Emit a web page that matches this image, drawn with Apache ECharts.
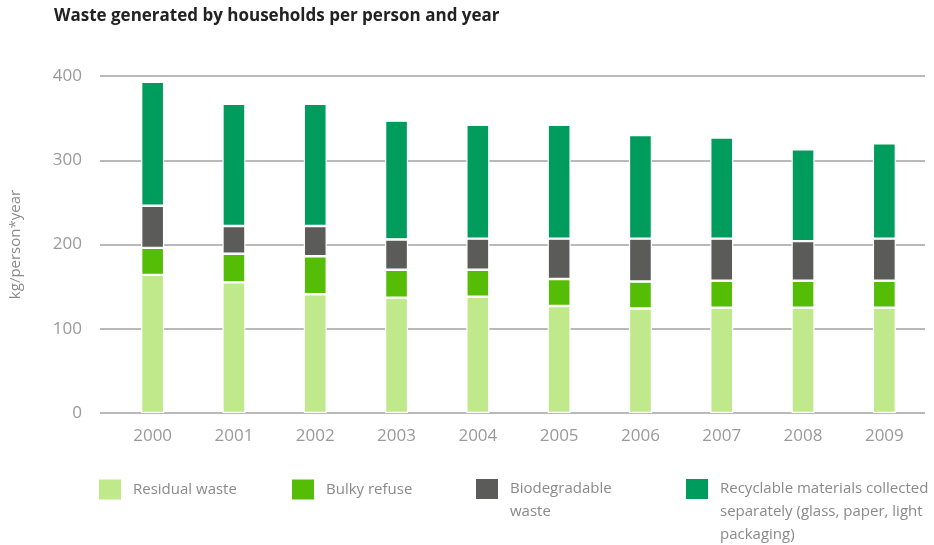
<!DOCTYPE html>
<html>
<head>
<meta charset="utf-8">
<script src="https://cdn.jsdelivr.net/npm/echarts@6/dist/echarts.min.js"></script>
<style>
  html, body { margin: 0; padding: 0; background: #fff; }
  #chart { width: 934px; height: 545px; }
</style>
</head>
<body>
<div id="chart"></div>
<script>
// values, kg per person and year
const years = ["2000", "2001", "2002", "2003", "2004", "2005", "2006", "2007", "2008", "2009"];
const residual = [164, 155, 141, 137, 138, 127, 124, 125, 125, 125];
const bulky = [32, 34, 45, 33, 32, 32, 32, 32, 32, 32];
const biodegradable = [50, 33, 36, 36, 37, 48, 51, 50, 47, 50];
const recyclable = [147, 145, 145, 141, 135, 135, 123, 120, 109, 113];

const seriesNames = [
  "Residual waste",
  "Bulky refuse",
  "Biodegradable\nwaste",
  "Recyclable materials collected\nseparately (glass, paper, light\npackaging)"
];
const colors = ["#bfe98b", "#56bd06", "#5b5b59", "#009c5e"];

const font = "'Open Sans', 'Noto Sans', sans-serif";
const gridColor = "#a2a2a2";

const chart = echarts.init(document.getElementById("chart"));

// one legend per item so each one sits where the reference puts it.
// legend text is centred on the swatch, so blank lines are put in front
// to keep the first line level with the swatch
const legendLeft = [92, 285, 469, 679];
const lineH = 23;
function makeLegend(i) {
  const lines = seriesNames[i].split("\n").length;
  const blank = "\n".repeat(lines - 1);
  const boxH = (2 * lines - 1) * lineH;
  return {
    data: [seriesNames[i]],
    left: legendLeft[i],
    top: 489 - boxH / 2 - 5,
    icon: "rect",
    itemWidth: 24,
    itemHeight: 22,
    selectedMode: false,
    formatter: function (name) {
      return blank + name;
    },
    textStyle: {
      color: "#8a8a8a",
      fontSize: 15,
      fontFamily: font,
      lineHeight: lineH,
      padding: [0, 0, 0, 6]
    }
  };
}

function makeSeries(i, data) {
  return {
    name: seriesNames[i],
    type: "bar",
    stack: "total",
    barWidth: 23,
    data: data,
    itemStyle: {
      color: colors[i],
      borderColor: "#fff",
      borderWidth: 1.2
    }
  };
}

const option = {
  animation: false,
  title: {
    text: "Waste generated by households per person and year",
    left: 49,
    top: 3,
    textStyle: {
      color: "#222",
      fontSize: 17,
      fontWeight: "bold",
      fontFamily: font
    }
  },
  legend: [0, 1, 2, 3].map(makeLegend),
  grid: {
    left: 110,
    right: 9,
    top: 76,
    bottom: 132
  },
  xAxis: {
    type: "category",
    data: years,
    axisLine: { show: false },
    axisTick: { show: false },
    axisLabel: {
      color: "#9a9a9a",
      fontSize: 17,
      fontFamily: font,
      margin: 15
    }
  },
  yAxis: {
    type: "value",
    min: 0,
    max: 400,
    interval: 100,
    name: "kg/person*year",
    nameLocation: "middle",
    nameRotate: 90,
    nameGap: 89,
    nameTextStyle: {
      color: "#8a8a8a",
      fontSize: 15,
      fontFamily: font
    },
    axisLine: { show: false },
    axisTick: {
      show: true,
      length: 12,
      lineStyle: { color: gridColor, width: 1.5 }
    },
    axisLabel: {
      color: "#9a9a9a",
      fontSize: 17,
      fontFamily: font,
      margin: 30
    },
    splitLine: {
      lineStyle: { color: gridColor, width: 1.5 }
    }
  },
  series: [
    makeSeries(0, residual),
    makeSeries(1, bulky),
    makeSeries(2, biodegradable),
    makeSeries(3, recyclable)
  ]
};

chart.setOption(option);
</script>
</body>
</html>
